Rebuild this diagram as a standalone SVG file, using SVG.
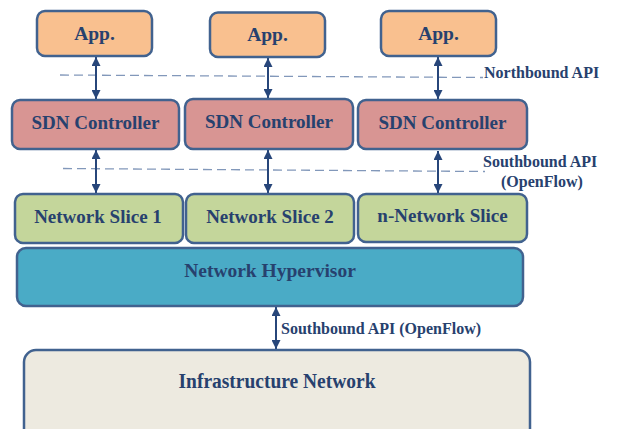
<svg xmlns="http://www.w3.org/2000/svg" width="617" height="429" viewBox="0 0 617 429">
<style>
.box{stroke:#41628F;stroke-width:2.5}
.app{fill:#F9C08F}
.sdn{fill:#D89593}
.slice{fill:#C4D69B}
.hyp{fill:#4AABC6}
.infra{fill:#EDEAE0}
.t{font-family:"Liberation Serif","Times New Roman",serif;font-weight:bold;fill:#27416E;text-anchor:middle}
.l{font-family:"Liberation Serif","Times New Roman",serif;font-weight:bold;fill:#27416E;font-size:16px}
.arr{stroke:#27467A;stroke-width:2;fill:none;marker-start:url(#ah);marker-end:url(#ah)}
.dash{stroke:#8298BA;stroke-width:1.3;stroke-dasharray:9 5;fill:none}
</style>
<defs>
<marker id="ah" viewBox="0 0 10 10" refX="10" refY="5" markerWidth="5" markerHeight="4.5" orient="auto-start-reverse" markerUnits="strokeWidth">
<path d="M0,0 L10,5 L0,10 z" fill="#27467A"/>
</marker>
</defs>
<g id="connectors">
<line class="dash" x1="60" y1="75" x2="483" y2="77.5"/>
<line class="dash" x1="63" y1="168.5" x2="485" y2="171.5"/>
<line class="arr" x1="96" y1="57" x2="96" y2="99"/>
<line class="arr" x1="268" y1="58" x2="268" y2="98"/>
<line class="arr" x1="438" y1="57" x2="438" y2="99"/>
<line class="arr" x1="96" y1="150" x2="96" y2="193"/>
<line class="arr" x1="268" y1="150" x2="268" y2="193"/>
<line class="arr" x1="438" y1="151" x2="438" y2="193"/>
<line class="arr" x1="276" y1="307" x2="276" y2="349"/>
</g>
<g id="app1"><rect class="box app" x="37" y="11" width="115" height="45" rx="8"/><text class="t" x="94.5" y="40" font-size="19.5">App.</text></g>
<g id="app2"><rect class="box app" x="210" y="12.5" width="115" height="44.5" rx="8"/><text class="t" x="267.5" y="41" font-size="19.5">App.</text></g>
<g id="app3"><rect class="box app" x="381" y="11" width="115" height="45" rx="8"/><text class="t" x="438.5" y="40" font-size="19.5">App.</text></g>
<g id="sdn1"><rect class="box sdn" x="12" y="100" width="167" height="49" rx="8"/><text class="t" x="95.5" y="129" font-size="19">SDN Controller</text></g>
<g id="sdn2"><rect class="box sdn" x="185" y="99" width="168" height="50" rx="8"/><text class="t" x="269" y="128" font-size="19">SDN Controller</text></g>
<g id="sdn3"><rect class="box sdn" x="358" y="100" width="169" height="49" rx="8"/><text class="t" x="442.5" y="129" font-size="19">SDN Controller</text></g>
<g id="slice1"><rect class="box slice" x="15" y="194" width="168" height="49" rx="8"/><text class="t" x="98" y="222.5" font-size="19">Network Slice 1</text></g>
<g id="slice2"><rect class="box slice" x="186" y="194" width="168" height="49" rx="8"/><text class="t" x="270" y="222.5" font-size="19">Network Slice 2</text></g>
<g id="slice3"><rect class="box slice" x="358" y="194" width="169" height="48" rx="8"/><text class="t" x="442.5" y="221.5" font-size="19">n-Network Slice</text></g>
<g id="hypervisor"><rect class="box hyp" x="17" y="248" width="506" height="58" rx="9"/><text class="t" x="270" y="277" font-size="19.5">Network Hypervisor</text></g>
<g id="infrastructure"><rect class="box infra" x="24" y="350" width="506" height="95" rx="12"/><text class="t" x="277" y="388" font-size="20" textLength="197" lengthAdjust="spacingAndGlyphs">Infrastructure Network</text></g>
<g id="labels">
<text class="l" x="484" y="77.5">Northbound API</text>
<text class="l" x="483" y="166.5">Southbound API</text>
<text class="l" x="501" y="187">(OpenFlow)</text>
<text class="l" x="281" y="333.5">Southbound API (OpenFlow)</text>
</g>
</svg>
